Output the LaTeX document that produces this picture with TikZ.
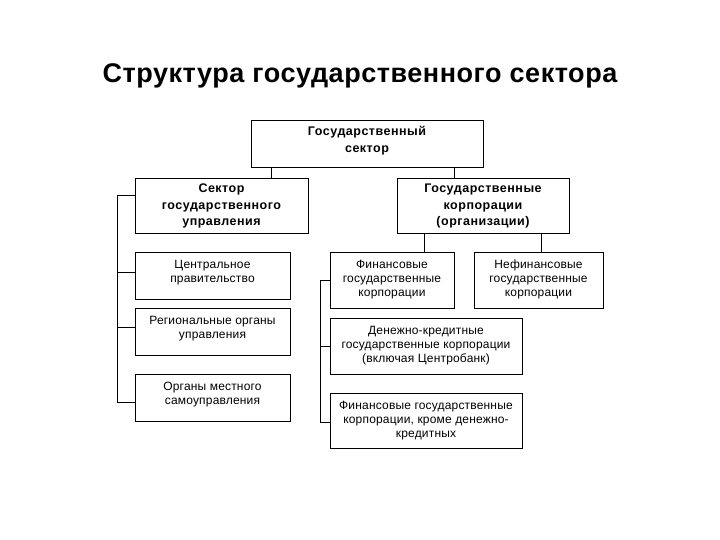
\documentclass[tikz,border=0pt]{standalone}
\usepackage{fontspec}
\setmainfont{Liberation Sans}
\newfontfamily\titlefont[LetterSpace=2]{Liberation Sans}
\newfontfamily\boldboxfont[LetterSpace=4]{Liberation Sans}
\newfontfamily\boxfont[LetterSpace=1.5]{Liberation Sans}
\begin{document}
\begin{tikzpicture}[x=1pt,y=-1pt,
  box/.style={draw=black, line width=0.9pt, inner sep=0pt, fill=white},
  txt/.style={align=center, inner sep=0pt, anchor=north, font=\boxfont\fontsize{12}{14}\selectfont},
  btxt/.style={align=center, inner sep=0pt, anchor=north, font=\boldboxfont\fontsize{12.5}{16.5}\selectfont\bfseries},
  link/.style={draw=black, line width=0.9pt}]
\useasboundingbox[fill=white] (0,0) rectangle (720,540);

\node[font=\titlefont\fontsize{27}{32}\selectfont\bfseries] (title) at (360,76) {Структура государственного сектора};

\node[box, minimum width=232, minimum height=47,
  label={[btxt, yshift=-6.5]north:{Государственный\\сектор}}] (top) at (367,143.5) {};
\node[box, minimum width=173, minimum height=55,
  label={[btxt, yshift=-6.5]north:{Сектор\\государственного\\управления}}] (L1) at (221.5,205.5) {};
\node[box, minimum width=172, minimum height=55,
  label={[btxt, yshift=-6.5]north:{Государственные\\корпорации\\(организации)}}] (R1) at (483,205.5) {};

\node[box, minimum width=155, minimum height=47,
  label={[txt, yshift=-8.5]north:{Центральное\\правительство}}] (cg) at (212.5,275.5) {};
\node[box, minimum width=155, minimum height=47,
  label={[txt, yshift=-8.5]north:{Региональные органы\\управления}}] (reg) at (212.5,331.5) {};
\node[box, minimum width=155, minimum height=47,
  label={[txt, yshift=-8.5]north:{Органы местного\\самоуправления}}] (loc) at (212.5,397.5) {};

\node[box, minimum width=124, minimum height=56,
  label={[txt, yshift=-8.5]north:{Финансовые\\государственные\\корпорации}}] (fin) at (392,280) {};
\node[box, minimum width=129, minimum height=56,
  label={[txt, yshift=-8.5]north:{Нефинансовые\\государственные\\корпорации}}] (nonfin) at (538.5,280) {};
\node[box, minimum width=192, minimum height=56,
  label={[txt, yshift=-8.5]north:{Денежно-кредитные\\государственные корпорации\\(включая Центробанк)}}] (dk) at (426,346) {};
\node[box, minimum width=192, minimum height=55,
  label={[txt, yshift=-8.5]north:{Финансовые государственные\\корпорации, кроме денежно-\\кредитных}}] (last) at (426,420.5) {};

\coordinate (lx) at (117,0);
\coordinate (rx) at (320,0);

\draw[link] ([xshift=20.5]top.south west) -- ([xshift=20.5]top.south west |- L1.north);
\draw[link] ([xshift=-29]top.south east) -- ([xshift=-29]top.south east |- R1.north);
\draw[link] ([xshift=28]R1.south west) -- ([xshift=28]R1.south west |- fin.north);
\draw[link] ([xshift=-28]R1.south east) -- ([xshift=-28]R1.south east |- nonfin.north);

\draw[link] ([yshift=10.5]L1.west) -| ([yshift=-5]loc.west -| lx) -- ([yshift=-5]loc.west);
\draw[link] ([yshift=3.5]cg.west) -- ([yshift=3.5]cg.west -| lx);
\draw[link] ([yshift=4]reg.west) -- ([yshift=4]reg.west -| lx);

\draw[link] (fin.west) -| ([yshift=-1.5]last.west -| rx) -- ([yshift=-1.5]last.west);
\draw[link] (dk.west) -- (dk.west -| rx);
\end{tikzpicture}
\end{document}
